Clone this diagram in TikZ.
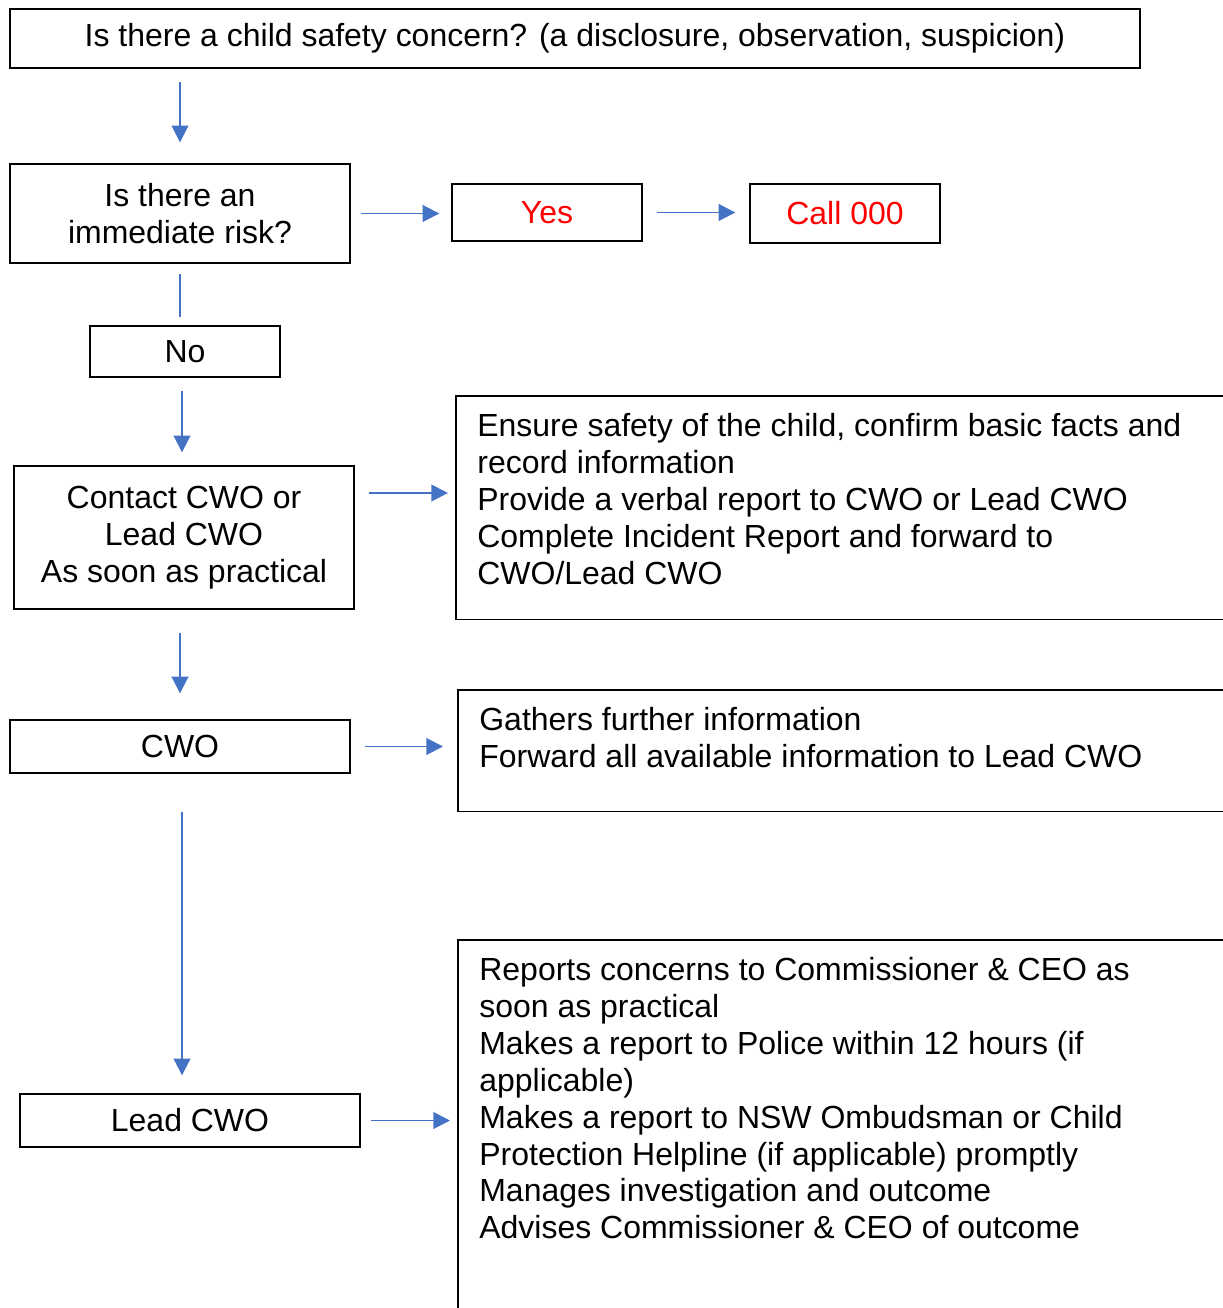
\documentclass[tikz,border=0pt]{standalone}
\usepackage{fontspec}
\setmainfont{Liberation Sans}
\usetikzlibrary{arrows.meta}

\definecolor{arrowblue}{HTML}{4472C4}
\definecolor{alertred}{HTML}{FF0000}

\tikzset{
  txt/.style={font=\fontsize{18.2}{21}\selectfont},
  box/.style={txt,draw=black,line width=0.8pt,align=center,inner sep=0pt},
  frame/.style={inner sep=0pt,anchor=north west},
  note/.style={txt,align=left,inner sep=0pt,anchor=north west},
  boxline/.style={black,line width=0.8pt},
  arr/.style={arrowblue,line width=1.1pt,-{Triangle[length=9.5pt,width=9.5pt]}},
  link/.style={arrowblue,line width=1.1pt}
}

\begin{document}
\begin{tikzpicture}[x=0.02cm,y=-0.02cm]

\useasboundingbox (0,0) rectangle (1223,1308);

% left column
\node[box,minimum width=22.6cm,minimum height=1.18cm] (concern) at (575,38.5)
  {Is there a child safety concern? (a disclosure, observation, suspicion)};
\node[box,minimum width=6.8cm,minimum height=1.98cm] (risk) at (180,213.5)
  {Is there an\\immediate risk?};
\node[box,minimum width=3.8cm,minimum height=1.14cm,text=alertred] (yes) at (547,212.5) {Yes};
\node[box,minimum width=3.8cm,minimum height=1.18cm,text=alertred] (call) at (845,213.5) {Call 000};
\node[box,minimum width=3.8cm,minimum height=1.02cm] (no) at (185,351.5) {No};
\node[box,minimum width=6.8cm,minimum height=2.86cm] (contact) at (184,537.5)
  {Contact CWO or\\Lead CWO\\As soon as practical};
\node[box,minimum width=6.8cm,minimum height=1.06cm] (cwo) at (180,746.5) {CWO};
\node[box,minimum width=6.8cm,minimum height=1.06cm] (lead) at (190,1120.5) {Lead CWO};

% right column, open on the right
\node[frame,minimum width=15.9cm,minimum height=4.46cm] (stepsbox) at (456,396) {};
\node[frame,minimum width=15.9cm,minimum height=2.42cm] (gatherbox) at (458,690) {};
\node[frame,minimum width=15.9cm,minimum height=7.8cm] (reportbox) at (458,940) {};
\draw[boxline] (stepsbox.north east) -- (stepsbox.north west) -- (stepsbox.south west) -- (stepsbox.south east);
\draw[boxline] (gatherbox.north east) -- (gatherbox.north west) -- (gatherbox.south west) -- (gatherbox.south east);
\draw[boxline] (reportbox.north east) -- (reportbox.north west) -- (reportbox.south west) -- (reportbox.south east);

\node[note] (steps) at (477,413) {Ensure safety of the child, confirm basic facts and\\
  record information\\
  Provide a verbal report to CWO or Lead CWO\\
  Complete Incident Report and forward to\\
  CWO/Lead CWO};
\node[note] (gather) at (479,707) {Gathers further information\\
  Forward all available information to Lead CWO};
\node[note] (report) at (479,957) {Reports concerns to Commissioner \& CEO as\\
  soon as practical\\
  Makes a report to Police within 12 hours (if\\
  applicable)\\
  Makes a report to NSW Ombudsman or Child\\
  Protection Helpline (if applicable) promptly\\
  Manages investigation and outcome\\
  Advises Commissioner \& CEO of outcome};

% connectors
\draw[arr,shorten <=0.26cm,shorten >=0.42cm] (risk.north |- concern.south) -- (risk.north);
\draw[arr,shorten <=0.2cm,shorten >=0.24cm] (risk.east) -- (risk.east -| yes.west);
\draw[arr,shorten <=0.28cm,shorten >=0.28cm] (yes.east) -- (yes.east -| call.west);
\draw[link,shorten <=0.2cm,shorten >=0.16cm] (risk.south) -- (risk.south |- no.north);
\draw[arr,shorten <=0.26cm,shorten >=0.26cm] ([xshift=-0.06cm]no.south) -- ([xshift=-0.06cm]no.south |- contact.north);
\draw[arr,shorten <=0.28cm,shorten >=0.16cm] ([yshift=0.89cm]contact.east) -- ([yshift=0.89cm]contact.east -| stepsbox.west);
\draw[arr,shorten <=0.46cm,shorten >=0.52cm] (cwo.north |- contact.south) -- (cwo.north);
\draw[arr,shorten <=0.28cm,shorten >=0.3cm] (cwo.east) -- (cwo.east -| gatherbox.west);
\draw[arr,shorten <=0.76cm,shorten >=0.36cm] ([xshift=0.04cm]cwo.south) -- ([xshift=0.04cm]cwo.south |- lead.north);
\draw[arr,shorten <=0.2cm,shorten >=0.16cm] (lead.east) -- (lead.east -| reportbox.west);
\end{tikzpicture}
\end{document}
